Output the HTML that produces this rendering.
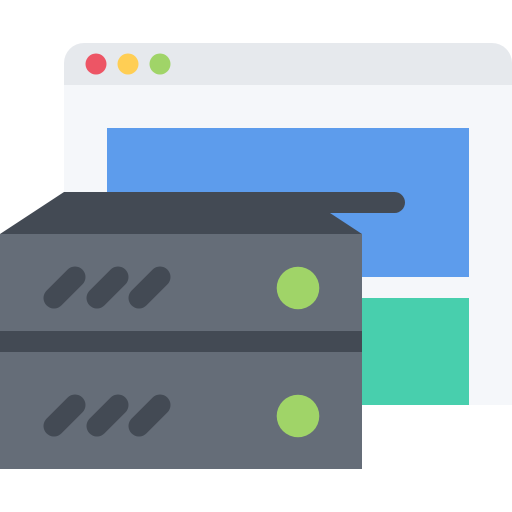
<!DOCTYPE html>
<html><head><style>html,body{margin:0;padding:0;background:#fff}svg{display:block}</style></head><body>
<svg width="512" height="512" viewBox="0 0 512 512" xmlns="http://www.w3.org/2000/svg">
<path d="M84 43 H492 A20 20 0 0 1 512 63 V85 H64 V63 A20 20 0 0 1 84 43 Z" fill="#E6E9ED"/>
<rect x="64" y="85" width="448" height="320" fill="#F5F7FA"/>
<circle cx="96" cy="64" r="10.5" fill="#ED5565"/>
<circle cx="128" cy="64" r="10.5" fill="#FFCE54"/>
<circle cx="160" cy="64" r="10.5" fill="#A0D468"/>
<rect x="107" y="128" width="362" height="149" fill="#5D9CEC"/>
<rect x="107" y="298" width="362" height="107" fill="#48CFAD"/>
<path d="M0 234 L64 192 H394.5 A10.5 10.5 0 0 1 394.5 213 H330 L362 234 Z" fill="#434A54"/>
<rect x="0" y="234" width="362" height="235" fill="#656D78"/>
<rect x="0" y="331" width="362" height="21" fill="#434A54"/>
<g stroke="#434A54" stroke-width="21" stroke-linecap="round">
<line x1="54" y1="298" x2="75" y2="277"/>
<line x1="97" y1="298" x2="118" y2="277"/>
<line x1="139" y1="298" x2="160" y2="277"/>
<line x1="54" y1="426" x2="75" y2="405"/>
<line x1="97" y1="426" x2="118" y2="405"/>
<line x1="139" y1="426" x2="160" y2="405"/>
</g>
<circle cx="298" cy="288" r="21.3" fill="#A0D468"/>
<circle cx="298" cy="416" r="21.3" fill="#A0D468"/>
</svg>
</body></html>
